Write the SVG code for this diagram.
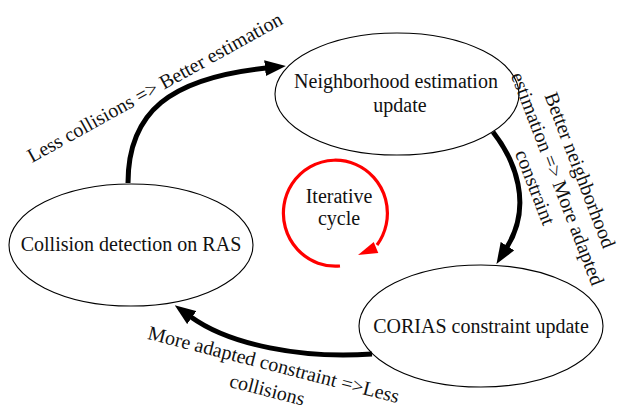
<svg xmlns="http://www.w3.org/2000/svg" width="619" height="411" viewBox="0 0 619 411">
  <style>
    text { font-family: 'Liberation Serif', 'Times New Roman', Times, 'DejaVu Serif', serif; font-size: 20px; fill: #111; }
    .node ellipse { fill: #fff; stroke: #000; stroke-width: 1.1; }
    .mid { text-anchor: middle; }
    .flow { fill: none; stroke: #000; stroke-width: 5; }
    .loop { fill: none; stroke: #f00; stroke-width: 3.2; }
  </style>
  <defs>
    <marker id="head" viewBox="0 0 21 16" refX="1" refY="8" markerWidth="21" markerHeight="16" markerUnits="userSpaceOnUse" orient="auto">
      <path d="M0,0 L21,8 L0,16 z" fill="#000"/>
    </marker>
  </defs>
  <rect width="619" height="411" fill="#fff"/>

  <!-- nodes -->
  <g id="node-neighborhood" class="node">
    <ellipse cx="397" cy="94" rx="122" ry="61"/>
    <text class="mid" x="396" y="88">Neighborhood estimation</text>
    <text class="mid" x="400" y="112">update</text>
  </g>
  <g id="node-collision" class="node">
    <ellipse cx="131" cy="245" rx="122" ry="61"/>
    <text class="mid" x="131" y="251">Collision detection on RAS</text>
  </g>
  <g id="node-corias" class="node">
    <ellipse cx="481" cy="326" rx="122" ry="61"/>
    <text class="mid" x="481" y="333">CORIAS constraint update</text>
  </g>

  <!-- connectors -->
  <g id="connectors">
    <path class="flow" d="M128,183 C128,112 170,78 266,68" marker-end="url(#head)"/>
    <path class="flow" d="M493,132 C515,160 533,205 507,247" marker-end="url(#head)"/>
    <path class="flow" d="M372,354 C302,359 230,345 191,317" marker-end="url(#head)"/>
  </g>

  <!-- edge labels -->
  <g id="label-less-collisions">
    <text transform="translate(32,163) rotate(-29)" x="0" y="0">Less collisions =&gt; Better estimation</text>
  </g>
  <g id="label-better-neighborhood" transform="translate(557,179) rotate(69)">
    <text class="mid" x="0" y="-18">Better neighborhood</text>
    <text class="mid" x="0" y="6">estimation =&gt; More adapted</text>
    <text class="mid" x="0" y="30">constraint</text>
  </g>
  <g id="label-more-adapted" transform="translate(272,371) rotate(14.4)">
    <text class="mid" x="0" y="0">More adapted constraint =&gt;Less</text>
    <text class="mid" x="0" y="26">collisions</text>
  </g>

  <!-- iterative cycle loop -->
  <g id="iterative-cycle">
    <path class="loop" d="M340,266 A52,53 0 1 1 377,245"/>
    <polygon points="358,255 378.3,253 373.7,242" fill="#f00"/>
    <text class="mid" x="339" y="203">Iterative</text>
    <text class="mid" x="339" y="225">cycle</text>
  </g>
</svg>
